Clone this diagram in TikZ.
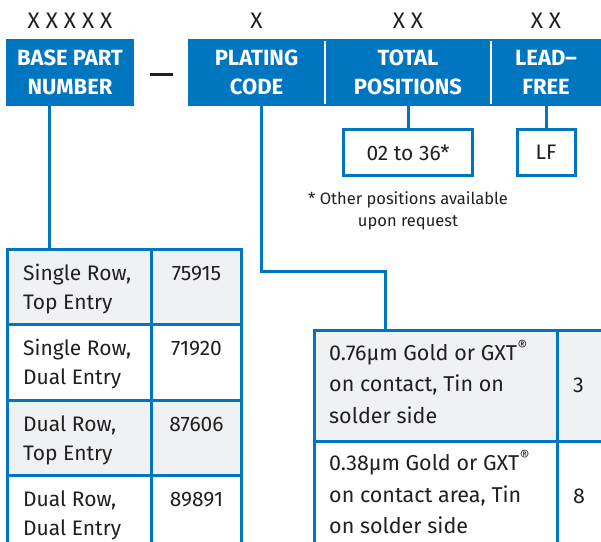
\documentclass[tikz,border=0pt]{standalone}
\usepackage{fontspec}
\setmainfont{Fira Sans}
\usetikzlibrary{positioning,calc}

\definecolor{brand}{RGB}{0,118,192}
\definecolor{rowgrey}{RGB}{240,241,243}
\definecolor{ink}{RGB}{35,31,32}

\newcommand\headfont{\fontsize{22}{29}\selectfont\bfseries}
\newcommand\bodyfont{\fontsize{21}{29}\selectfont}
\newcommand\platefont{\fontsize{21.5}{31.5}\selectfont}
\newcommand\notefont{\fontsize{16.5}{22}\selectfont}
\newcommand\reg{\kern0.5pt\raisebox{0.42em}{\fontsize{15}{15}\selectfont ®}}

\begin{document}
\begin{tikzpicture}[
		x=1pt,y=-1pt,
		every node/.style={text=ink},
		headbox/.style={fill=brand, text=white, font=\headfont, align=center,
			minimum height=67, inner sep=0, outer sep=0},
		valbox/.style={draw=brand, line width=3, fill=white, font=\bodyfont,
			minimum height=46, inner sep=0},
		digits/.style={font=\fontsize{22.5}{22.5}\selectfont, inner sep=0},
		cell/.style={draw=brand, line width=3, anchor=north west, inner sep=0},
		celltext/.style={anchor=north west, align=left, inner sep=0},
		link/.style={draw=brand, line width=3}
		]
		
		\clip (0,0) rectangle (601,541);
		
		% =========================
		% Header: part number fields
		% =========================
		\node[headbox, minimum width=128] (basepart) at (70,72.5) {BASE PART\\NUMBER};
		\node[inner sep=0] (dash) at (161.5,74) {\color{ink}\rule{23pt}{3pt}};
		\node[headbox, minimum width=137] (plating) at (256.5,72.5) {PLATING\\CODE};
		\node[headbox, minimum width=166, right=0pt of plating] (total) {TOTAL\\POSITIONS};
		\node[headbox, minimum width=110, right=0pt of total] (leadfree) {LEAD–\\FREE};
		
		% white dividers
		\foreach \a in {plating,total}
		\draw[white, line width=2] ([yshift=-2]\a.north east) -- ([yshift=2]\a.south east);
		
		% digit counts
		\node[digits] (nbase) at ([yshift=18]basepart.north) {X X X X X};
		\node[digits] (nplating) at ([yshift=18]plating.north) {X};
		\node[digits] (ntotal) at ([yshift=18]total.north) {X X};
		\node[digits] (nlead) at ([yshift=18]leadfree.north) {X X};
		
		% =========================
		% Values under the header
		% =========================
		\node[valbox, minimum width=129, below=22pt of total] (posbox) {02 to 36*};
		\node[valbox, minimum width=58, below=22pt of leadfree] (lfbox) {LF};
		\draw[link] (total) -- (posbox);
		\draw[link] (leadfree) -- (lfbox);
		
		\node[font=\notefont, align=center, inner sep=0, below=14pt of posbox] (posnote)
		{* Other positions available\\upon request};
		
		% connectors to the tables
		\coordinate (baseout) at ([xshift=-20.5]basepart.south);
		\draw[link] (baseout) -- (baseout |- 0,248);
		
		\coordinate (plateout) at ([xshift=4.5]plating.south);
		\coordinate (platein) at (385,329);
		\draw[link] (plateout) -- ++(0,165) -| (platein);
		
		% =========================
		% Left: base part numbers
		% =========================
		\foreach \n/\shade/\kind/\code in {
			0/rowgrey/{Single Row,\\Top Entry}/75915,
			1/white/{Single Row,\\Dual Entry}/71920,
			2/rowgrey/{Dual Row,\\Top Entry}/87606,
			3/white/{Dual Row,\\Dual Entry}/89891}{
			\node[cell, fill=\shade, minimum width=144, minimum height=75.3] (kind\n) at (6,{248+75.3*\n}) {};
			\node[cell, fill=\shade, minimum width=90, minimum height=75.3] (code\n) at ([xshift=-3]kind\n.north east) {};
			\node[celltext, font=\bodyfont] at ([xshift=17,yshift=-12]kind\n.north west) {\strut\kind};
			\node[celltext, font=\bodyfont, anchor=north] at ([yshift=-12]code\n.north) {\strut\code};
		}
		
		% =========================
		% Right: plating codes
		% =========================
		\foreach \n/\shade/\finish/\code in {
			0/rowgrey/{0.76µm Gold or GXT\reg\\on contact, Tin on\\solder side}/3,
			1/white/{0.38µm Gold or GXT\reg\\on contact area, Tin\\on solder side}/8}{
			\node[cell, fill=\shade, minimum width=243, minimum height=110.5] (plate\n) at (313,{329+110.5*\n}) {};
			\node[cell, fill=\shade, minimum width=80, minimum height=110.5] (pcode\n) at ([xshift=-3]plate\n.north east) {};
			\node[celltext, font=\platefont] at ([xshift=16,yshift=-9]plate\n.north west) {\strut\finish};
			\node[celltext, font=\platefont, anchor=west] at ([xshift=17]pcode\n.west) {\code};
		}
	\end{tikzpicture}
\end{document}
